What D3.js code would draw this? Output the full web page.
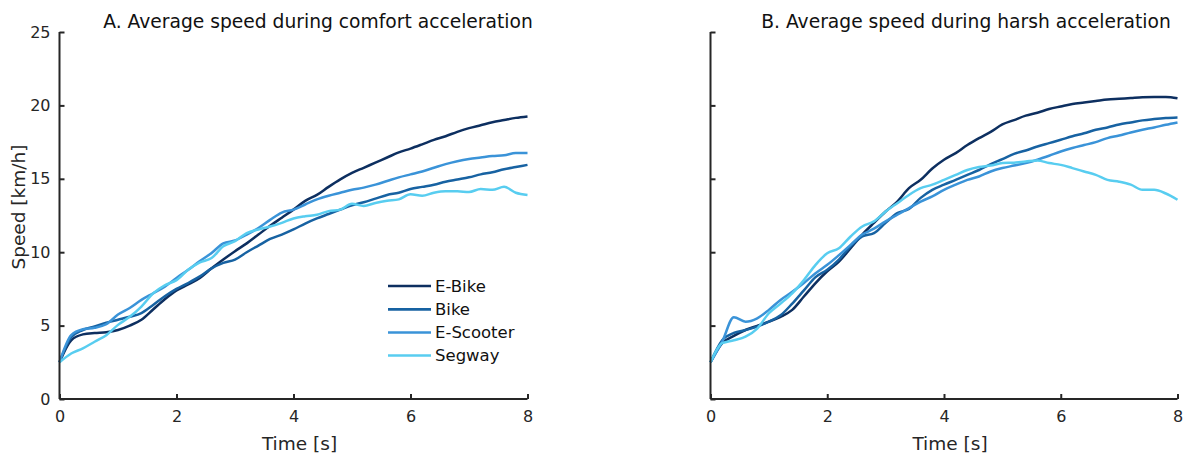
<!DOCTYPE html>
<html>
<head>
<meta charset="utf-8">
<script src="https://cdn.jsdelivr.net/npm/d3@7"></script>
<style>
  html, body { margin: 0; padding: 0; background: #fff; }
  svg { display: block; font-family: "DejaVu Sans", Verdana, sans-serif; }
</style>
</head>
<body>
<svg id="chart" width="1184" height="454"></svg>
<script>
// ---- Data ----
const time = [0,0.2,0.4,0.6,0.8,1.0,1.2,1.4,1.6,1.8,2.0,2.2,2.4,2.6,2.8,3.0,3.2,3.4,3.6,3.8,4.0,
              4.2,4.4,4.6,4.8,5.0,5.2,5.4,5.6,5.8,6.0,6.2,6.4,6.6,6.8,7.0,7.2,7.4,7.6,7.8,8.0];

const seriesNames = ["E-Bike", "Bike", "E-Scooter", "Segway"];
const seriesColors = ["#0d2f60", "#1762a2", "#3a93d8", "#58cdf0"];

// Panel A: comfort acceleration
const comfortEBike = [2.5,4.0,4.4,4.5,4.55,4.7,5.0,5.4,6.1,6.8,7.4,7.8,8.25,8.9,9.5,10.07,10.6,11.2,11.8,12.35,12.9,
                      13.5,13.9,14.45,14.96,15.4,15.75,16.1,16.45,16.8,17.06,17.35,17.65,17.9,18.2,18.45,18.65,18.85,19.0,19.15,19.25];
const comfortBike = [2.5,4.2,4.7,4.95,5.2,5.4,5.6,5.85,6.4,7.0,7.5,7.9,8.35,8.9,9.27,9.5,10.0,10.45,10.9,11.2,11.55,
                     11.95,12.3,12.6,12.9,13.2,13.4,13.65,13.9,14.05,14.3,14.45,14.6,14.8,14.95,15.1,15.3,15.45,15.65,15.8,15.95];
const comfortEScooter = [2.5,4.35,4.75,4.85,5.1,5.75,6.2,6.75,7.2,7.65,8.25,8.8,9.4,9.95,10.6,10.8,11.2,11.65,12.2,12.7,12.9,
                         13.25,13.6,13.85,14.05,14.25,14.4,14.6,14.85,15.1,15.3,15.5,15.75,16.0,16.2,16.35,16.45,16.55,16.6,16.75,16.75];
const comfortSegway = [2.5,3.1,3.45,3.9,4.35,5.05,5.6,6.3,7.2,7.75,8.1,8.8,9.3,9.6,10.4,10.75,11.3,11.55,11.75,12.0,12.3,
                       12.45,12.55,12.8,12.9,13.3,13.15,13.35,13.5,13.6,13.95,13.85,14.05,14.15,14.15,14.1,14.3,14.25,14.45,14.05,13.9];

// Panel B: harsh acceleration
const harshEBike = [2.5,3.8,4.3,4.7,4.98,5.27,5.6,6.07,6.98,7.9,8.7,9.36,10.27,11.2,12.0,12.77,13.45,14.36,14.93,15.7,16.3,
                    16.75,17.3,17.77,18.2,18.7,19.0,19.3,19.5,19.75,19.93,20.1,20.2,20.3,20.4,20.45,20.5,20.55,20.57,20.57,20.48];
const harshBike = [2.5,4.0,4.5,4.7,4.93,5.27,5.7,6.5,7.4,8.3,8.8,9.5,10.4,11.07,11.3,12.0,12.66,12.95,13.7,14.25,14.6,
                   14.93,15.27,15.6,16.0,16.34,16.7,16.93,17.2,17.43,17.66,17.9,18.1,18.34,18.5,18.7,18.84,18.98,19.07,19.14,19.18];
const harshEScooter = [2.5,3.9,5.57,5.27,5.5,6.07,6.75,7.3,7.9,8.57,9.14,9.8,10.5,11.2,11.6,12.1,12.55,13.0,13.45,13.8,14.25,
                       14.6,14.93,15.16,15.5,15.73,15.9,16.07,16.3,16.57,16.86,17.1,17.3,17.5,17.77,17.95,18.16,18.34,18.5,18.68,18.84];
const harshSegway = [2.5,3.8,4.0,4.25,4.8,5.84,6.5,7.2,8.1,9.14,9.93,10.27,11.07,11.75,12.1,12.77,13.34,13.9,14.36,14.6,14.93,
                     15.27,15.6,15.8,15.9,16.07,16.1,16.18,16.25,16.07,15.95,15.73,15.5,15.27,14.93,14.8,14.6,14.25,14.25,14.0,13.57];

const xTicks = [0, 2, 4, 6, 8];
const yTicks = [0, 5, 10, 15, 20, 25];
const titles = ["A. Average speed during comfort acceleration", "B. Average speed during harsh acceleration"];
const xLabel = "Time [s]";
const yLabel = "Speed [km/h]";

// ---- Drawing ----
const svg = d3.select("#chart");
const axisColor = "#262626";
const plotTop = 32, plotBottom = 399;
const panels = [
  { left: 59.5, right: 527.5, series: [comfortEBike, comfortBike, comfortEScooter, comfortSegway], showY: true, legend: true, titleX: 318 },
  { left: 710.5, right: 1177.5, series: [harshEBike, harshBike, harshEScooter, harshSegway], showY: false, legend: false, titleX: 966 }
];

panels.forEach((p, pi) => {
  const x = d3.scaleLinear().domain([0, 8]).range([p.left, p.right]);
  const y = d3.scaleLinear().domain([0, 25]).range([plotBottom, plotTop]);
  const g = svg.append("g");

  // lines
  const line = d3.line().curve(d3.curveMonotoneX).x((d, i) => x(time[i])).y(d => y(d));
  p.series.forEach((s, si) => {
    g.append("path").datum(s)
      .attr("d", line)
      .attr("fill", "none")
      .attr("stroke", seriesColors[si])
      .attr("stroke-width", 2.5)
      .attr("stroke-linejoin", "round");
  });

  // x axis
  const xAxis = d3.axisBottom(x).tickValues(xTicks).tickSize(-5).tickPadding(12).tickFormat(d3.format("d"));
  const gx = g.append("g").attr("transform", `translate(0,${plotBottom})`).call(xAxis);
  // y axis
  const yAxis = d3.axisLeft(y).tickValues(yTicks).tickSize(-5).tickPadding(9)
    .tickFormat(p.showY ? d3.format("d") : () => "");
  const gy = g.append("g").attr("transform", `translate(${p.left},0)`).call(yAxis);

  [gx, gy].forEach(ax => {
    ax.select(".domain").attr("stroke", axisColor).attr("stroke-width", 2)
      .attr("d", ax === gx ? `M${p.left},0H${p.right}` : `M0,${plotBottom}V${plotTop}`);
    ax.selectAll(".tick line").attr("stroke", axisColor).attr("stroke-width", 2);
    ax.selectAll(".tick text").attr("fill", axisColor).style("font-size", "16px")
      .style("font-family", "DejaVu Sans, Verdana, sans-serif");
  });

  // x label
  g.append("text").attr("x", (p.left + p.right) / 2 + 6).attr("y", 449.5)
    .attr("text-anchor", "middle").attr("fill", axisColor).style("font-size", "18.5px").text(xLabel);

  // title
  g.append("text").attr("x", p.titleX).attr("y", 28)
    .attr("text-anchor", "middle").attr("fill", "#111").style("font-size", "18.7px").text(titles[pi]);

  if (p.showY) {
    g.append("text").attr("transform", `translate(25,207) rotate(-90)`)
      .attr("text-anchor", "middle").attr("fill", axisColor).style("font-size", "18.5px").text(yLabel);
  }

  if (p.legend) {
    const legendY = [286, 309.3, 332.5, 355.5];
    seriesNames.forEach((name, si) => {
      g.append("line").attr("x1", 388).attr("x2", 431).attr("y1", legendY[si]).attr("y2", legendY[si])
        .attr("stroke", seriesColors[si]).attr("stroke-width", 2.7);
      g.append("text").attr("x", 435).attr("y", legendY[si]).attr("dy", "0.36em")
        .attr("fill", "#111").style("font-size", "16.5px").text(name);
    });
  }
});
</script>
</body>
</html>
